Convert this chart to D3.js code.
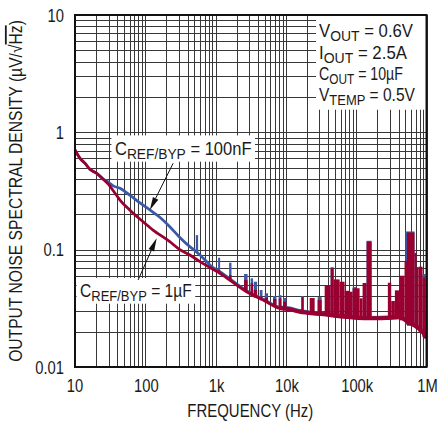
<!DOCTYPE html>
<html><head><meta charset="utf-8">
<script src="https://cdn.jsdelivr.net/npm/d3@7"></script>
<style>body{margin:0;background:#fff}svg{display:block}</style>
</head><body><svg id="c" width="441" height="421"></svg>
<script>
// ---------- data ----------
const xTickValues = [10, 100, 1000, 1e4, 1e5, 1e6];
const xTickLabels = ["10", "100", "1k", "10k", "100k", "1M"];
const yTickValues = [0.01, 0.1, 1, 10];
const yTickLabels = ["0.01", "0.1", "1", "10"];

// C_REF/BYP = 100nF (blue)
const freq100nF = [10, 11.8, 13.9, 16.3, 20.3, 25.2, 30, 35, 43.6, 60, 84, 116, 161, 223, 310, 430, 520, 600, 703, 850, 1150, 2750, 5000, 8200, 11300, 15700, 20000, 34000, 60000, 155000, 270000, 414000, 540000, 713000, 880000, 1000000];
const noise100nF = [0.71, 0.60, 0.544, 0.484, 0.448, 0.40, 0.375, 0.35, 0.333, 0.292, 0.251, 0.218, 0.189, 0.157, 0.127, 0.106, 0.097, 0.09, 0.082, 0.073, 0.065, 0.0448, 0.0372, 0.0322, 0.0315, 0.030, 0.0293, 0.0284, 0.0272, 0.0262, 0.0264, 0.0267, 0.0245, 0.0223, 0.0201, 0.0179];
// C_REF/BYP = 1uF (red)
const freq1uF = [10, 11.8, 13.9, 16.3, 20.3, 25.2, 30, 35, 43.6, 60, 93, 129, 223, 310, 430, 600, 1150, 2750, 5000, 8200, 11300, 15700, 20000, 34000, 60000, 155000, 270000, 414000, 540000, 713000, 880000, 1000000];
const noise1uF = [0.71, 0.60, 0.544, 0.484, 0.448, 0.398, 0.36, 0.318, 0.265, 0.218, 0.173, 0.147, 0.117, 0.100, 0.090, 0.079, 0.063, 0.0438, 0.0366, 0.0316, 0.031, 0.0296, 0.029, 0.0281, 0.027, 0.026, 0.0262, 0.0265, 0.0243, 0.0221, 0.0199, 0.0177];

// spur / noise-band segments: start freq, end freq, top value, base value
const spike100nFLo   = [523, 1085, 1556, 2540, 3150, 3490, 4245, 5000, 6560, 7900, 9100, 16600, 28300, 43300, 88900, 140500, 500000, 880000];
const spike100nFHi   = [564, 1159, 1682, 2850, 3410, 3890, 4640, 5570, 7330, 8630, 10160, 17900, 32250, 47750, 100000, 165500, 675000, 970000];
const spike100nFTop  = [0.133, 0.0854, 0.0774, 0.062, 0.057, 0.0533, 0.0453, 0.0425, 0.0403, 0.041, 0.0387, 0.0403, 0.0394, 0.071, 0.048, 0.119, 0.143, 0.062];
const spike100nFBase = [0.095, 0.064, 0.056, 0.046, 0.042, 0.041, 0.038, 0.036, 0.034, 0.032, 0.031, 0.029, 0.028, 0.028, 0.027, 0.026, 0.023, 0.018];

const spike1uFLo   = [1085, 1556, 2540, 3150, 3490, 4245, 5000, 6560, 7900, 9100, 16600, 21800, 28300, 35600, 43300, 47750, 58100, 68400, 80600, 88900, 111800, 123300, 140500, 282000, 315000, 355000, 413500, 487000, 527000, 675000, 720000, 770000, 880000, 970000];
const spike1uFHi   = [1159, 1682, 2850, 3410, 3890, 4640, 5570, 7330, 8630, 10160, 17900, 25650, 32250, 43300, 47750, 58100, 68400, 80600, 88900, 111800, 123300, 140500, 165500, 315000, 355000, 413500, 487000, 527000, 675000, 720000, 770000, 880000, 970000, 1000000];
const spike1uFTop  = [0.067, 0.0608, 0.055, 0.0517, 0.0453, 0.040, 0.039, 0.038, 0.0385, 0.036, 0.0394, 0.0387, 0.0372, 0.050, 0.0694, 0.0558, 0.0533, 0.0446, 0.0438, 0.0469, 0.0385, 0.052, 0.117, 0.0523, 0.0365, 0.045, 0.060, 0.080, 0.140, 0.094, 0.071, 0.0716, 0.058, 0.03];
const spike1uFBase = [0.062, 0.054, 0.044, 0.040, 0.039, 0.037, 0.036, 0.033, 0.032, 0.031, 0.0295, 0.029, 0.0283, 0.0277, 0.0275, 0.0272, 0.027, 0.0268, 0.0266, 0.0264, 0.0262, 0.0261, 0.026, 0.0262, 0.0263, 0.0263, 0.025, 0.0243, 0.0225, 0.022, 0.0212, 0.0198, 0.018, 0.0175];

const conditionMain = ["V", "I", "C", "V"];
const conditionSub  = ["OUT", "OUT", "OUT", "TEMP"];
const conditionRest = [" = 0.6V", " = 2.5A", " = 10µF", " = 0.5V"];

const labelText  = [" = 100nF", " = 1µF"];
const labelFreq  = [37, 11.8];      // text start anchor
const labelValue = [0.64, 0.0395];  // text baseline anchor
const arrowFromF = [249, 79];
const arrowFromV = [0.545, 0.0551];
const arrowToF   = [116, 145];
const arrowToV   = [0.218, 0.125];

const RED = "#990030", BLUE = "#3a5aa8";
// ---------- chart ----------
const FONT = '"Liberation Sans Narrow","Arial Narrow","Liberation Sans",Arial,sans-serif';
const svg = d3.select("#c");
const X0 = 75, X1 = 426.5, Y0 = 15, Y1 = 367;
const x = d3.scaleLog().domain([10, 1e6]).range([X0, X1]);
const y = d3.scaleLog().domain([0.01, 10]).range([Y1, Y0]);

const probe = svg.append("text").attr("font-family", FONT).attr("font-size", 18).text("0.01 100k 1M");
const plen = probe.node().getComputedTextLength();
probe.remove();
const sx = plen > 0 ? Math.max(0.7, Math.min(1.2, 0.82 * 18 * 6.06 / plen)) : 1;

svg.append("rect").attr("width", 441).attr("height", 421).attr("fill", "#fff");
const gridL = svg.append("g"), boxL = svg.append("g"), dataL = svg.append("g"), frameL = svg.append("g"), textL = svg.append("g");

// grid
const xs = [], ys = [];
for (let d = 10; d < 1e6; d *= 10) for (let k = 1; k <= 9; k++) xs.push(d * k);
xs.push(1e6);
for (let d = 0.01; d < 9; d *= 10) for (let k = 1; k <= 9; k++) ys.push(+(d * k).toPrecision(3));
ys.push(10);
gridL.selectAll(".gx").data(xs).enter().append("line")
  .attr("x1", d => Math.round(x(d)) + 0.5).attr("x2", d => Math.round(x(d)) + 0.5)
  .attr("y1", Y0).attr("y2", Y1).attr("stroke", "#383838").attr("stroke-width", 1);
gridL.selectAll(".gy").data(ys).enter().append("line")
  .attr("y1", d => Math.round(y(d)) + 0.5).attr("y2", d => Math.round(y(d)) + 0.5)
  .attr("x1", X0).attr("x2", X1).attr("stroke", "#383838").attr("stroke-width", 1);

// text helper (optional target width in px)
function addText(layer, tx, ty, anchor, size, parts, rot, target, sub) {
  const g = layer.append("g");
  const t = g.append("text").attr("text-anchor", anchor).attr("font-family", FONT).attr("font-size", size).attr("fill", "#1a1a1a");
  let shifted = false;
  parts.forEach(p => {
    const s = t.append("tspan").text(p.t);
    if (p.sub) { s.attr("font-size", sub || 14).attr("dy", 3.5); shifted = true; }
    else if (shifted) { s.attr("dy", -3.5); shifted = false; }
    if (p.over) s.style("text-decoration", "overline");
  });
  let k = sx;
  if (target) { const w = t.node().getBBox().width; if (w > 0) k = target / w; }
  g.attr("transform", `translate(${tx},${ty})${rot ? ` rotate(${rot})` : ""} scale(${k},1)`);
  return { g, t, tx, ty, k };
}
function boxOf(o) {
  const b = o.t.node().getBBox();
  return { x: o.tx + b.x * o.k, y: o.ty + b.y, w: b.width * o.k, h: b.height };
}

// ticks
xTickValues.forEach((v, i) => addText(textL, x(v) + (i > 0 ? 1 : 0), 392, "middle", 18, [{ t: xTickLabels[i] }]));
yTickValues.forEach((v, i) => addText(textL, 64, y(v) + 6.5, "end", 18, [{ t: yTickLabels[i] }]));
addText(textL, 250.3, 417, "middle", 18, [{ t: "FREQUENCY (Hz)" }], 0, 126);
addText(textL, 22, 191, "middle", 18, [{ t: "OUTPUT NOISE SPECTRAL DENSITY (µV/√" }, { t: "Hz", over: true }, { t: ")" }], -90, 342);

// conditions legend
const condBaselines = [37, 59, 80, 101];
const condWidths = [94, 88, 84, 96];
const condObjs = conditionMain.map((m, i) => addText(textL, 319, condBaselines[i], "start", 18,
  [{ t: m }, { t: conditionSub[i], sub: true }, { t: conditionRest[i] }], 0, condWidths[i], 15));
let lmin = 1e9, lmax = 0;
condObjs.forEach(o => { const b = boxOf(o); lmin = Math.min(lmin, b.x); lmax = Math.max(lmax, b.y + b.h); });
boxL.append("rect").attr("x", lmin - 3).attr("y", Y0).attr("width", X1 - lmin + 3).attr("height", lmax - Y0 + 2).attr("fill", "#fff");

// series labels
const labelWidths = [136.7, 111.7];
labelText.forEach((lt, i) => {
  const o = addText(textL, x(labelFreq[i]), y(labelValue[i]), "start", 18, [{ t: "C" }, { t: "REF/BYP", sub: true }, { t: lt }], 0, labelWidths[i], 15);
  const b = boxOf(o);
  boxL.append("rect").attr("x", b.x - 3.5).attr("y", b.y - 3).attr("width", b.w + 7).attr("height", b.h + 3).attr("fill", "#fff");
});

// data
const line = d3.line().x(d => x(d[0])).y(d => y(d[1])).curve(d3.curveMonotoneX);
function drawSeries(freqs, vals, lo, hi, top, base, color) {
  dataL.append("g").selectAll("rect").data(lo.map((l, i) => [l, hi[i], top[i], base[i]])).enter().append("rect")
    .attr("x", d => x(d[0])).attr("width", d => Math.max(1.5, x(d[1]) - x(d[0])))
    .attr("y", d => y(d[2])).attr("height", d => y(d[3]) - y(d[2])).attr("fill", color);
  const pts = freqs.map((f, i) => [f, vals[i]]);
  dataL.append("path").datum(pts).attr("d", line)
    .attr("fill", "none").attr("stroke", color).attr("stroke-width", 2.8).attr("stroke-linejoin", "round");
  // dense noise floor above ~8 kHz renders as a thicker trace
  dataL.append("path").datum(pts.filter(p => p[0] >= 8000)).attr("d", line)
    .attr("fill", "none").attr("stroke", color).attr("stroke-width", 4).attr("stroke-linejoin", "round");
}
drawSeries(freq100nF, noise100nF, spike100nFLo, spike100nFHi, spike100nFTop, spike100nFBase, BLUE);
drawSeries(freq1uF, noise1uF, spike1uFLo, spike1uFHi, spike1uFTop, spike1uFBase, RED);

// arrows
arrowFromF.forEach((f, i) => {
  const x1 = x(f), y1 = y(arrowFromV[i]), x2 = x(arrowToF[i]), y2 = y(arrowToV[i]);
  const a = Math.atan2(y2 - y1, x2 - x1), L = 13, Wd = 3;
  const bx = x2 - L * Math.cos(a), by = y2 - L * Math.sin(a);
  frameL.append("line").attr("x1", x1).attr("y1", y1).attr("x2", bx).attr("y2", by).attr("stroke", "#111").attr("stroke-width", 1);
  frameL.append("path").attr("d", `M${x2},${y2}L${bx - Wd * Math.sin(a)},${by + Wd * Math.cos(a)}L${bx + Wd * Math.sin(a)},${by - Wd * Math.cos(a)}Z`).attr("fill", "#111");
});

// frame
frameL.append("rect").attr("x", X0).attr("y", Y0).attr("width", X1 - X0).attr("height", Y1 - Y0)
  .attr("fill", "none").attr("stroke", "#111").attr("stroke-width", 2);
</script></body></html>
